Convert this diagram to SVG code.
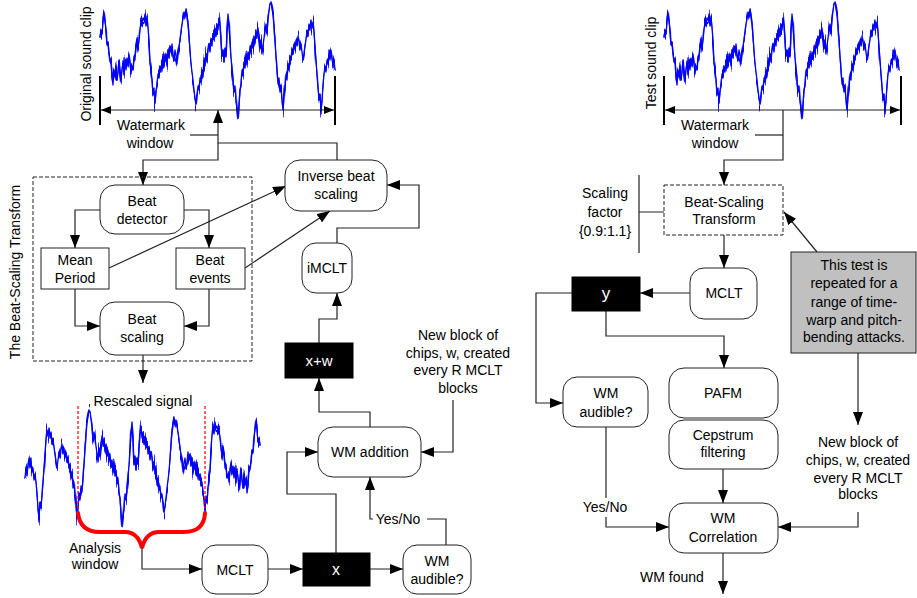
<svg xmlns="http://www.w3.org/2000/svg" xmlns:xlink="http://www.w3.org/1999/xlink" width="917" height="598" viewBox="0 0 917 598">
<style>
.t{font-family:"Liberation Sans",Arial,sans-serif;font-size:14px;fill:#000;text-anchor:middle}
.w{fill:#fff}
.box{fill:#fff;stroke:#222;stroke-width:1}
.blk{fill:#000;stroke:#000}
.dash{fill:#fff;stroke:#222;stroke-width:1;stroke-dasharray:4,2}
.c{fill:none;stroke:#222;stroke-width:1.2}
.a{marker-end:url(#ah)}
.bar{stroke:#000;stroke-width:2}
.wave{fill:none;stroke:#0000ff;stroke-width:1.3;stroke-linejoin:round}
</style>
<defs>
<marker id="ah" markerUnits="userSpaceOnUse" markerWidth="13" markerHeight="10" refX="13" refY="5" orient="auto"><path d="M0,0 L13,5 L0,10 z" fill="#000"/></marker>
<marker id="sa" markerUnits="userSpaceOnUse" markerWidth="10" markerHeight="8" refX="10" refY="4" orient="auto-start-reverse"><path d="M0,0 L10,4 L0,8 z" fill="#000"/></marker>
<filter id="jit" x="-5%" y="-15%" width="110%" height="130%">
<feTurbulence type="fractalNoise" baseFrequency="0.7 0.03" numOctaves="2" seed="7" result="n"/>
<feColorMatrix in="n" type="matrix" values="0 0 0 0 0.5  0 1 0 0 0  0 0 0 0 0  0 0 0 0 1" result="m"/>
<feDisplacementMap in="SourceGraphic" in2="m" scale="26" xChannelSelector="R" yChannelSelector="G"/>
</filter>
<path id="wave" class="wave" d="M0,38 L1,30 2,34 3,22 4,12 5,20 6,30 7,45 8,42 9,55 10,62 11,58 12,78 13,85 14,70 15,76 16,66 17,80 18,72 19,60 20,74 21,82 22,68 23,64 24,75 25,60 26,70 27,58 28,66 29,54 30,62 31,74 32,66 33,70 34,56 35,60 36,44 37,38 38,48 39,40 40,30 41,22 42,26 43,18 44,20 45,14 46,24 47,16 48,28 49,40 50,62 51,70 52,80 53,95 54,88 55,103 56,92 57,84 58,74 59,78 60,66 61,72 62,60 63,68 64,54 65,62 66,56 67,66 68,50 69,58 70,48 71,52 72,44 73,54 74,60 75,50 76,56 77,64 78,52 79,46 80,40 81,32 82,24 83,18 84,12 85,16 86,9 87,14 88,24 89,36 90,50 91,64 92,72 93,80 94,90 95,98 96,104 97,94 98,86 99,90 100,78 101,82 102,70 103,74 104,60 105,66 106,54 107,62 108,50 109,44 110,52 111,40 112,46 113,34 114,40 115,28 116,36 117,24 118,30 119,18 120,26 121,40 122,56 123,50 124,62 125,48 126,56 127,30 128,14 129,24 130,40 131,58 132,70 133,80 134,92 135,86 136,100 137,108 138,118 139,104 140,90 141,84 142,70 143,76 144,62 145,68 146,56 147,64 148,52 149,58 150,46 151,54 152,42 153,48 154,36 155,44 156,30 157,38 158,28 159,36 160,48 161,40 162,54 163,46 164,38 165,30 166,24 167,34 168,18 169,10 170,4 171,2 172,8 173,16 174,26 175,40 176,56 177,70 178,84 179,78 180,92 181,86 182,100 183,110 184,96 185,88 186,74 187,80 188,64 189,70 190,56 191,60 192,48 193,54 194,44 195,50 196,40 197,46 198,36 199,42 200,50 201,44 202,52 203,60 204,54 205,46 206,40 207,30 208,36 209,24 210,30 211,20 212,28 213,22 214,32 215,46 216,60 217,74 218,88 219,100 220,94 221,110 222,100 223,86 224,74 225,66 226,72 227,60 228,64 229,54 230,60 231,50 232,58 233,66 234,60 235,70"/>
<g id="wv"><use xlink:href="#wave" href="#wave"/><use xlink:href="#wave" href="#wave" filter="url(#jit)"/></g>
</defs>
<rect width="917" height="598" fill="#fff"/>

<!-- waveforms -->
<g id="original-clip">
<use xlink:href="#wv" href="#wv" x="100" y="0"/>
<text class="t" transform="translate(91,64) rotate(-90)">Original sound clip</text>
</g>
<g id="test-clip">
<use xlink:href="#wv" href="#wv" x="664" y="0"/>
<text class="t" transform="translate(656,63) rotate(-90)">Test sound clip</text>
</g>
<g id="rescaled-signal">
<use xlink:href="#wv" href="#wv" transform="translate(260,408) scale(-1,1)"/>
<text class="t" x="143" y="406">Rescaled signal</text>
<path d="M78,406 V513 M205,406 V513" fill="none" stroke="#ff0000" stroke-width="1.2" stroke-dasharray="3,2"/>
<path d="M78,513 Q80,532 100,532 L125,532 Q138,532 142,548 Q146,532 159,532 L184,532 Q204,532 205,513" fill="none" stroke="#ff0000" stroke-width="4" stroke-linecap="round"/>
<text class="t" x="95" y="553">Analysis</text>
<text class="t" x="95" y="569">window</text>
</g>

<!-- connectors -->
<g id="connectors">
<path class="bar" d="M100,76 V125 M335,76 V125 M664,76 V125 M901,76 V125"/>
<path class="c" d="M101,110 H334" marker-start="url(#sa)" marker-end="url(#sa)"/>
<path class="c" d="M665,110 H900" marker-start="url(#sa)" marker-end="url(#sa)"/>
<path class="c a" d="M337,160 V143 H218 V110"/>
<path class="c a" d="M218,143 V160 H143 V185"/>
<path class="c" d="M190,135 H218"/>
<path class="c a" d="M100,210 H75 V248"/>
<path class="c a" d="M184,210 H209 V248"/>
<path class="c a" d="M75,289 V326 H100"/>
<path class="c a" d="M209,289 V326 H184"/>
<path class="c a" d="M143,355 V383"/>
<path class="c a" d="M109,268 L286,186"/>
<path class="c a" d="M245,268 L330,211"/>
<path class="c a" d="M337,243 V228 H419 V185 H387"/>
<path class="c a" d="M319,343 V319 H337 V293"/>
<path class="c a" d="M370,427 V412 H319 V378"/>
<path class="c a" d="M453,400 V452 H421"/>
<path class="c a" d="M336,553 V494 H287 V452 H318"/>
<path class="c" d="M446,545 V519 H427"/>
<path class="c a" d="M373,519 H370 V477"/>
<path class="c a" d="M142,548 V569 H202"/>
<path class="c a" d="M268,569 H303"/>
<path class="c a" d="M370,569 H403"/>
<path class="c a" d="M783,110 V160 H724 V185"/>
<path class="c" d="M755,135 H783"/>
<path class="c" d="M639,175 V253 M639,212 H664"/>
<path class="c a" d="M724,235 V268"/>
<path class="c a" d="M690,293 H640"/>
<path class="c a" d="M572,293 H536 V403 H563"/>
<path class="c a" d="M606,311 V336 H724 V368"/>
<path class="c a" d="M723,469 V503"/>
<path class="c" d="M606,427 V498"/>
<path class="c a" d="M606,517 V527 H669"/>
<path class="c a" d="M858,512 V527 H778"/>
<path class="c a" d="M858,353 V425"/>
<path class="c a" d="M817,252 L784,212"/>
<path class="c a" d="M723,553 V594"/>
</g>

<!-- labels -->
<g id="labels">
<text class="t" x="151" y="130">Watermark</text>
<text class="t" x="150" y="148">window</text>
<text class="t" x="715" y="130">Watermark</text>
<text class="t" x="715" y="148">window</text>
<text class="t" transform="translate(20,272) rotate(-90)">The Beat-Scaling Transform</text>
<text class="t" x="458" y="340">New block of</text>
<text class="t" x="458" y="358">chips, w, created</text>
<text class="t" x="458" y="375">every R MCLT</text>
<text class="t" x="458" y="393">blocks</text>
<text class="t" x="398" y="524">Yes/No</text>
<text class="t" x="605" y="198">Scaling</text>
<text class="t" x="605" y="217">factor</text>
<text class="t" x="605" y="236">{0.9:1.1}</text>
<text class="t" x="605" y="512">Yes/No</text>
<text class="t" x="858" y="447">New block of</text>
<text class="t" x="858" y="465">chips, w, created</text>
<text class="t" x="858" y="483">every R MCLT</text>
<text class="t" x="858" y="499">blocks</text>
<text class="t" x="672" y="582">WM found</text>
</g>

<!-- left nodes -->
<g id="beat-scaling-transform-frame"><rect class="dash" x="33" y="177" width="219" height="184" style="fill:none"/></g>
<g id="beat-detector"><rect class="box" x="100" y="185" width="84" height="49" rx="15"/><text class="t" x="142" y="206">Beat</text><text class="t" x="142" y="224">detector</text></g>
<g id="mean-period"><rect class="box" x="41" y="248" width="68" height="41"/><text class="t" x="75" y="265">Mean</text><text class="t" x="75" y="283">Period</text></g>
<g id="beat-events"><rect class="box" x="176" y="248" width="69" height="41"/><text class="t" x="210" y="265">Beat</text><text class="t" x="210" y="283">events</text></g>
<g id="beat-scaling"><rect class="box" x="100" y="302" width="84" height="53" rx="15"/><text class="t" x="142" y="324">Beat</text><text class="t" x="142" y="342">scaling</text></g>
<g id="inverse-beat-scaling"><rect class="box" x="285" y="160" width="102" height="51" rx="15"/><text class="t" x="336" y="181">Inverse beat</text><text class="t" x="336" y="199">scaling</text></g>
<g id="imclt"><rect class="box" x="302" y="243" width="50" height="50" rx="14"/><text class="t" x="327" y="273">iMCLT</text></g>
<g id="x-plus-w"><rect class="blk" x="285" y="343" width="68" height="35"/><text class="t w" x="319" y="366" style="font-size:15px">x+w</text></g>
<g id="wm-addition"><rect class="box" x="318" y="427" width="103" height="50" rx="15"/><text class="t" x="370" y="457">WM addition</text></g>
<g id="mclt-left"><rect class="box" x="202" y="545" width="66" height="49" rx="14"/><text class="t" x="235" y="575">MCLT</text></g>
<g id="x-box"><rect class="blk" x="303" y="553" width="67" height="33"/><text class="t w" x="336" y="575" style="font-size:16px">x</text></g>
<g id="wm-audible-left"><rect class="box" x="403" y="545" width="68" height="49" rx="14"/><text class="t" x="437" y="566">WM</text><text class="t" x="437" y="584">audible?</text></g>

<!-- right nodes -->
<g id="beat-scaling-transform"><rect class="dash" x="664" y="185" width="119" height="50"/><text class="t" x="724" y="207">Beat-Scaling</text><text class="t" x="724" y="224">Transform</text></g>
<g id="mclt-right"><rect class="box" x="690" y="268" width="67" height="51" rx="14"/><text class="t" x="724" y="298">MCLT</text></g>
<g id="y-box"><rect class="blk" x="572" y="277" width="68" height="34"/><text class="t w" x="606" y="299" style="font-size:17px">y</text></g>
<g id="wm-audible-right"><rect class="box" x="563" y="377" width="85" height="50" rx="14"/><text class="t" x="606" y="398">WM</text><text class="t" x="606" y="417">audible?</text></g>
<g id="pafm"><rect class="box" x="669" y="368" width="109" height="50" rx="15"/><text class="t" x="723" y="398">PAFM</text></g>
<g id="cepstrum-filtering"><rect class="box" x="669" y="420" width="109" height="49" rx="15"/><text class="t" x="723" y="440">Cepstrum</text><text class="t" x="723" y="457">filtering</text></g>
<g id="wm-correlation"><rect class="box" x="669" y="503" width="109" height="50" rx="15"/><text class="t" x="723" y="523">WM</text><text class="t" x="723" y="542">Correlation</text></g>
<g id="attack-note"><rect x="791" y="252" width="125" height="101" fill="#c0c0c0" stroke="#222" stroke-width="1"/>
<text class="t" x="854" y="270">This test is</text>
<text class="t" x="854" y="288">repeated for a</text>
<text class="t" x="854" y="307">range of time-</text>
<text class="t" x="854" y="325">warp and pitch-</text>
<text class="t" x="854" y="342">bending attacks.</text></g>
</svg>
